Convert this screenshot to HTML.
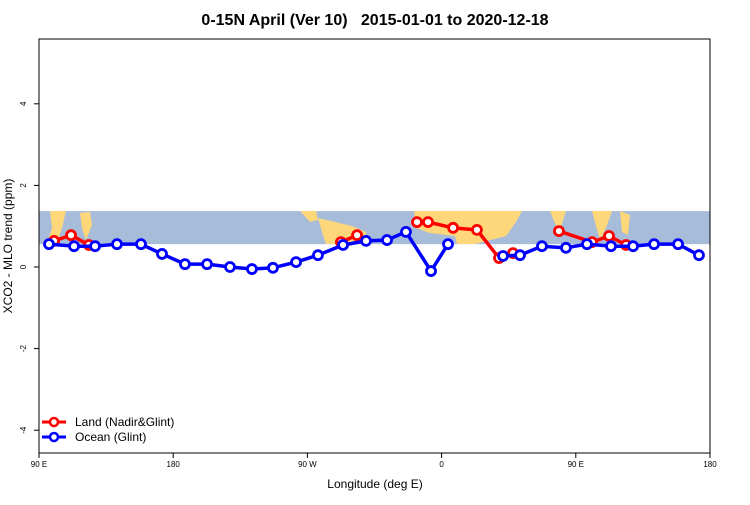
<!DOCTYPE html>
<html><head><meta charset="utf-8"><style>
body{margin:0;background:#fff;}
svg{font-family:"Liberation Sans",sans-serif;}
</style></head><body>
<svg id="chart" width="750" height="500" xmlns="http://www.w3.org/2000/svg">
<text x="375" y="25" text-anchor="middle" font-size="16" font-weight="bold">0-15N April (Ver 10)&#160;&#160;&#160;2015-01-01 to 2020-12-18</text>
<g id="bg"></g>
<g id="series"></g>
<rect x="39" y="39" width="671" height="414" fill="none" stroke="#000" stroke-width="1"/>
<g id="axes"></g>
<text x="375" y="488" text-anchor="middle" font-size="12">Longitude (deg E)</text>
<text transform="translate(12,246) rotate(-90)" text-anchor="middle" font-size="12">XCO2 - MLO trend (ppm)</text>
<g>
<line x1="42" y1="422" x2="66" y2="422" stroke="#f00" stroke-width="3"/><circle cx="54" cy="422" r="4" fill="#fff" stroke="#f00" stroke-width="2.5"/>
<text x="75" y="426" font-size="12">Land (Nadir&amp;Glint)</text>
<line x1="42" y1="437" x2="66" y2="437" stroke="#00f" stroke-width="3"/><circle cx="54" cy="437" r="4" fill="#fff" stroke="#00f" stroke-width="2.5"/>
<text x="75" y="441" font-size="12">Ocean (Glint)</text>
</g>
</svg>
<script>
const xTicks=[90,180,270,360,450,540];
const xTickLabels=["90 E","180","90 W","0","90 E","180"];
const yTicks=[-4,-2,0,2,4];
const oceanLon=[96.7,113.5,127.6,142.3,158.4,172.5,187.9,202.7,218.1,232.8,246.9,262.4,277.1,293.9,309.3,323.4,336.1,352.9,364.3,null,401.2,412.6,427.3,443.4,457.5,473.6,488.4,502.5,518.6,532.6];
const oceanVal=[0.56,0.51,0.51,0.56,0.56,0.32,0.07,0.07,0,-0.05,-0.02,0.12,0.29,0.54,0.64,0.66,0.86,-0.10,0.56,null,0.27,0.29,0.51,0.47,0.56,0.51,0.51,0.56,0.56,0.29];
const landLon=[100.1,111.5,123.5,null,292.5,303.3,null,343.5,350.9,367.7,383.7,398.5,407.9,null,438.7,460.9,472.3,483.7];
const landVal=[0.64,0.78,0.54,null,0.61,0.78,null,1.10,1.10,0.96,0.91,0.22,0.34,null,0.88,0.61,0.76,0.54];
const NS="http://www.w3.org/2000/svg";
const X=l=>39+(l-90)*671/450;
const Y=v=>267-v*40.8;
function mk(t,a,p){const e=document.createElementNS(NS,t);for(const k in a)e.setAttribute(k,a[k]);(p||document.getElementById('chart')).appendChild(e);return e;}
const bg=document.getElementById('bg');
mk('rect',{x:39,y:Y(1.37),width:671,height:Y(0.56)-Y(1.37),fill:'#a7bcd9'},bg);
const lands=["50,211 66,211 62,228 57,242 48,240 52,228","80,213 90,212 92,225 86,240 82,228","300,211 316,211 318,220 310,222","318,218 335,222 352,226 366,232 366,244 326,244 322,232","414,211 522,211 516,222 506,236 475,244 457,244 455,236 430,233 416,228","550,211 566,211 559,233","592,211 612,211 606,228 600,240 596,226","620,211 630,215 628,235 622,232"];
lands.forEach(p=>{mk('polygon',{points:p,fill:'#fed77a'},bg);});
const ax=document.getElementById('axes');
xTicks.forEach((t,i)=>{mk('line',{x1:X(t),y1:453,x2:X(t),y2:458,stroke:'#000'},ax);const tx=mk('text',{x:X(t),y:467,'text-anchor':'middle','font-size':'8'},ax);tx.textContent=xTickLabels[i];});
yTicks.forEach(t=>{mk('line',{x1:34,y1:Y(t),x2:39,y2:Y(t),stroke:'#000'},ax);const tx=mk('text',{transform:`translate(26,${Y(t)}) rotate(-90)`,'text-anchor':'middle','font-size':'8'},ax);tx.textContent=t;});
const sg=document.getElementById('series');
function draw(lon,val,col,name){
  let seg=[];const segs=[];
  lon.forEach((l,i)=>{if(l===null||val[i]===null){if(seg.length)segs.push(seg);seg=[];}else seg.push([X(l),Y(val[i])]);});
  if(seg.length)segs.push(seg);
  segs.forEach(s=>{const pl=mk('polyline',{points:s.map(p=>p.join(',')).join(' '),fill:'none',stroke:col,'stroke-width':3.5,'stroke-linejoin':'round'},sg);});
  segs.forEach(s=>s.forEach(p=>{const c=mk('circle',{cx:p[0],cy:p[1],r:4.5,fill:'#fff',stroke:col,'stroke-width':2.8},sg);}));
}
draw(landLon,landVal,'#f00','land');
draw(oceanLon,oceanVal,'#00f','ocean');
</script>
</body></html>
